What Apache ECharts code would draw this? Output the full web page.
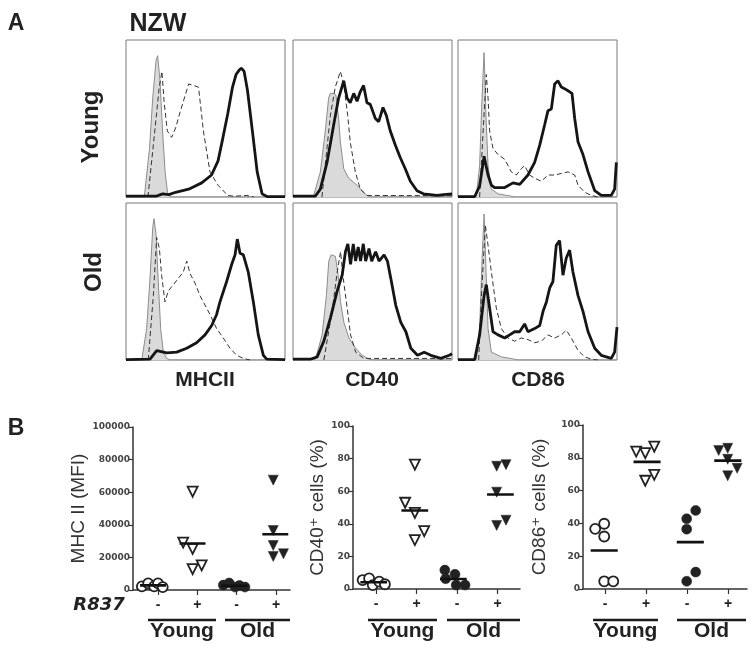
<!DOCTYPE html>
<html>
<head>
<meta charset="utf-8">
<script src="https://cdn.jsdelivr.net/npm/echarts@6/dist/echarts.min.js"></script>
<style>
  html, body { margin: 0; padding: 0; background: #fff; }
  #chart { width: 754px; height: 651px; }
</style>
</head>
<body>
<div id="chart"></div>
<script>
// ---- panel A: histograms, x = channel (0-100), y = % of max ----
const mhcYoungIso = [[0, 0], [11.5, 0], [14.8, 31], [16.8, 63], [18.9, 87], [19.9, 90], [21.4, 74], [23, 42], [24.6, 16], [26.1, 3], [28, 0], [100, 0]]
const mhcYoungCtrl = [[13.8, 0], [17.9, 40], [20.9, 70], [22.6, 80], [24, 60], [26, 42], [28.7, 38], [31.2, 44], [34.3, 55], [39.4, 72], [42.5, 71], [45.6, 70], [48.7, 42], [52.8, 16], [57.9, 7.5], [64, 1], [68, 0.5], [76, 1], [80.5, 0]]
const mhcYoungR837 = [[0, 0.5], [18.9, 0.5], [23, 2], [27, 1.5], [31.2, 3], [39.4, 5], [47.6, 9], [53.8, 14], [57.9, 23], [61, 38], [64, 53], [67, 70], [69.2, 78], [71.3, 81], [72.7, 82], [74.3, 80], [76.4, 68], [79.5, 42], [82.5, 16], [85.6, 2], [88.7, 0.3], [100, 0.3]]

const cd40YoungIso = [[0, 0], [13, 1], [17.2, 16], [20.3, 42], [22.4, 63], [23.5, 66], [25.6, 66], [27, 65], [28.7, 50], [29.8, 35], [31.9, 18], [35, 12], [40.3, 7.5], [43.4, 4], [46.5, 1], [49, 0], [100, 0]]
const cd40YoungCtrl = [[18.2, 0], [23.5, 52], [26.6, 70], [29.8, 80], [31.9, 72], [34.4, 52], [36, 35], [39.2, 16], [42.3, 5], [46.5, 1], [100, 0.8]]
const cd40YoungR837 = [[0, 0.5], [14, 0.5], [17.2, 5], [21.4, 22], [25.6, 46], [28.7, 63], [31.9, 74], [34, 63], [36, 60], [38.2, 66], [40.3, 61], [42.3, 67], [44.4, 71], [46.5, 60], [48.6, 59], [51.8, 50], [53.9, 48], [56.6, 57], [58.7, 52], [61.2, 42], [64.4, 33], [67.5, 25], [70.6, 18], [73.8, 10], [78, 4], [82, 2], [90.6, 1], [94.8, 1.5], [100, 2]]

const cd86YoungIso = [[0, 0], [11.5, 0.5], [13.6, 20], [15.1, 63], [16.4, 92], [17.6, 52], [18.9, 20], [21, 5], [25.2, 2], [33.5, 0.5], [35.6, 0], [100, 0]]
const cd86YoungCtrl = [[13.6, 0], [15.7, 40], [17.8, 78], [18.9, 63], [19.9, 42], [22, 31], [25.2, 27], [29.4, 24], [33.5, 16], [36.7, 14], [39.8, 18], [41.9, 20], [45, 14], [48.2, 12], [52.4, 10], [56.6, 14], [60.8, 14], [65, 15], [69.2, 16], [73.4, 14], [75.5, 7.5], [79.7, 3], [83.9, 1], [88, 0]]
const cd86YoungR837 = [[0, 0.3], [10.5, 0.3], [13.6, 7], [16.4, 26], [18.9, 14], [21, 7.5], [23, 6], [29.4, 6], [34.6, 9], [38.8, 8], [44, 14], [48.2, 22], [51.4, 33], [54.5, 46], [56.6, 55], [58.7, 56], [60.8, 72], [62.9, 74], [65, 70], [67, 69], [70.2, 67], [71.7, 66], [73.4, 50], [75.5, 35], [78.6, 27], [81.8, 16], [86, 4], [90.1, 1], [96.4, 1], [98.5, 5], [99.6, 22]]

const mhcOldIso = [[0, 0], [9.9, 0], [13, 20], [15.1, 52], [16.8, 84], [17.6, 90], [18.9, 80], [20.3, 50], [21.8, 20], [23.5, 5], [25.6, 1], [27.7, 0], [100, 0]]
const mhcOldCtrl = [[14, 0], [17.2, 41], [19.3, 78], [21, 71], [22.4, 54], [24.5, 37], [26.6, 44], [29.8, 48], [32.9, 52], [36, 56], [38.2, 63], [40.3, 55], [43.4, 49], [46.5, 41], [49.7, 35], [52.8, 29], [57, 20], [61.2, 14], [65.4, 7.5], [69.6, 3], [73.8, 1], [78, 0]]
const mhcOldR837 = [[0, 0.3], [15.1, 0.5], [19.3, 6], [25.6, 4.5], [31.9, 5], [38.2, 7.5], [44.4, 11], [49.7, 16], [53.9, 22], [57, 29], [59.1, 37], [63.3, 50], [66.5, 61], [68.6, 67], [70, 77], [71.7, 68], [73.8, 67], [76.9, 56], [80.1, 37], [83.2, 16], [86.4, 3], [88.5, 0.5], [100, 0.3]]

const cd40OldIso = [[0, 0], [14.1, 0.5], [18.3, 16], [21, 41], [22.5, 63], [24, 67], [26.7, 66], [28.4, 54], [29.9, 37], [32, 24], [35.2, 14], [39.4, 7.5], [43.6, 3], [47.8, 0.5], [51, 0], [100, 0]]
const cd40OldCtrl = [[19.4, 0], [24.6, 31], [27.8, 56], [29.9, 69], [31.6, 52], [34.1, 33], [36.2, 16], [39.4, 5], [44.6, 1], [100, 1]]
const cd40OldR837 = [[0, 0.5], [10.9, 0.5], [15.2, 2], [19.4, 12], [23.6, 27], [27.8, 44], [30.9, 54], [33, 69], [34.5, 74], [36.2, 61], [37.9, 74], [39.4, 63], [41, 72], [42.5, 63], [44.2, 74], [45.7, 63], [47.8, 71], [49.5, 63], [52, 69], [54.1, 63], [57.3, 67], [59.4, 63], [61.5, 52], [64.6, 35], [67.8, 24], [71, 18], [74.1, 7.5], [78.3, 3], [82.5, 5], [86.7, 3], [93, 1], [98.3, 3], [100, 4]]

const cd86OldIso = [[0, 0], [11.5, 0.5], [13.6, 20], [15.1, 63], [16.4, 93], [17.8, 52], [18.9, 20], [21, 5], [27.3, 2], [35.6, 0.5], [37.7, 0], [100, 0]]
const cd86OldCtrl = [[13, 0], [14.7, 40], [17.2, 86], [18.9, 73], [21, 56], [24.1, 33], [27.3, 20], [31.4, 14], [35.6, 12], [39.8, 14], [44, 13], [48.2, 11], [52.4, 12], [56.6, 16], [60.8, 14], [65, 16], [68.1, 19], [71.3, 14], [75.5, 6], [79.7, 2], [83.9, 0.5], [88, 0]]
const cd86OldR837 = [[0, 0.3], [10.5, 0.3], [13.6, 16], [16.4, 41], [17.8, 48], [19.9, 33], [22, 18], [25.2, 16], [29.4, 14], [32.5, 16], [35.6, 18], [38.8, 18], [41.9, 23], [44, 18], [48.2, 20], [51.4, 22], [53.5, 31], [55.6, 37], [57.7, 46], [59.7, 50], [61.8, 73], [63.9, 76], [66, 54], [68.1, 65], [70.2, 70], [72.3, 56], [75.5, 41], [78.6, 31], [81.8, 18], [86, 7.5], [90.1, 3], [96.4, 1], [98.5, 5], [100, 21]]

// ---- panel B: [column position, value]; columns 1..4 = Young -, Young +, Old -, Old + ----
const xLabels = ['-', '+', '-', '+']
const groupNames = ['Young', 'Old']

const mhcYoungNeg = [[0.59, 2200], [0.75, 4100], [0.9, 2200], [1.0, 4100], [1.12, 1800]]
const mhcYoungPos = [[1.88, 60300], [1.64, 29100], [1.88, 25200], [1.88, 12800], [2.11, 15100]]
const mhcOldNeg = [[2.66, 3000], [2.81, 4300], [2.96, 1800], [3.07, 2800], [3.21, 1800]]
const mhcOldPos = [[3.93, 67400], [3.93, 36500], [3.93, 27300], [3.93, 20600], [4.19, 22200]]
const mhcMeans = [2850, 28500, 2650, 34200]

const cd40YoungNeg = [[0.67, 5.5], [0.83, 6.5], [0.92, 2.4], [1.08, 4.5], [1.22, 2.9]]
const cd40YoungPos = [[1.96, 76.3], [1.72, 52.9], [1.96, 46.7], [1.96, 30], [2.19, 35.5]]
const cd40OldNeg = [[2.7, 11.6], [2.95, 9], [2.72, 6.3], [2.98, 2.4], [3.2, 2.4]]
const cd40OldPos = [[3.98, 75.3], [4.21, 76.3], [3.98, 59.4], [3.98, 39], [4.21, 42.2]]
const cd40Means = [4.1, 48.2, 6.1, 58]

const cd86YoungNeg = [[0.76, 36.7], [0.98, 39.8], [0.98, 32], [0.98, 4.7], [1.2, 4.7]]
const cd86YoungPos = [[1.76, 83.8], [1.98, 82.8], [2.2, 86.8], [1.98, 66], [2.2, 69.6]]
const cd86OldNeg = [[2.99, 42.8], [3.21, 47.9], [2.99, 36.5], [2.99, 4.7], [3.21, 10.3]]
const cd86OldPos = [[3.77, 84.4], [3.99, 85.8], [3.99, 79.1], [4.22, 73.6], [3.99, 69]]
const cd86Means = [23.5, 77.5, 28.6, 78.3]

const FONT = 'Liberation Sans, Arial, sans-serif'
const INK = '#222'

const myChart = echarts.init(document.getElementById('chart'))

// histogram boxes
const histBoxes = [
  { left: 126, top: 40, curves: [mhcYoungIso, mhcYoungCtrl, mhcYoungR837] },
  { left: 293, top: 40, curves: [cd40YoungIso, cd40YoungCtrl, cd40YoungR837] },
  { left: 458, top: 40, curves: [cd86YoungIso, cd86YoungCtrl, cd86YoungR837] },
  { left: 126, top: 203, curves: [mhcOldIso, mhcOldCtrl, mhcOldR837] },
  { left: 293, top: 203, curves: [cd40OldIso, cd40OldCtrl, cd40OldR837] },
  { left: 458, top: 203, curves: [cd86OldIso, cd86OldCtrl, cd86OldR837] }
]

// scatter panels
const dotPanels = [
  { left: 133, top: 427, width: 157, height: 163, min: 0.364, max: 4.356, yMax: 100000, yStep: 20000,
    name: 'MHC II (MFI)', nameGap: 44, groups: [mhcYoungNeg, mhcYoungPos, mhcOldNeg, mhcOldPos], means: mhcMeans },
  { left: 353, top: 426, width: 167, height: 163, min: 0.432, max: 4.556, yMax: 100, yStep: 20,
    name: 'CD40⁺ cells (%)', nameGap: 24, groups: [cd40YoungNeg, cd40YoungPos, cd40OldNeg, cd40OldPos], means: cd40Means },
  { left: 583, top: 425, width: 164, height: 164, min: 0.463, max: 4.46, yMax: 100, yStep: 20,
    name: 'CD86⁺ cells (%)', nameGap: 34, groups: [cd86YoungNeg, cd86YoungPos, cd86OldNeg, cd86OldPos], means: cd86Means }
]

const grid = []
const xAxis = []
const yAxis = []
const series = []

histBoxes.forEach((b, i) => {
  grid.push({ left: b.left, top: b.top, width: 159, height: 157, show: true, borderColor: '#7a7a7a', borderWidth: 1, backgroundColor: '#fff' })
  xAxis.push({ gridIndex: i, type: 'value', min: 0, max: 100, show: false })
  yAxis.push({ gridIndex: i, type: 'value', min: 0, max: 100, show: false })
  const [iso, ctrl, r837] = b.curves
  series.push({
    type: 'line', xAxisIndex: i, yAxisIndex: i, data: iso, symbol: 'none', z: 2,
    lineStyle: { color: '#8c8c8c', width: 1 },
    areaStyle: { color: '#dadada', opacity: 1 }
  })
  series.push({
    type: 'line', xAxisIndex: i, yAxisIndex: i, data: ctrl, symbol: 'none', z: 3,
    lineStyle: { color: '#333', width: 1, type: [5, 3] }
  })
  series.push({
    type: 'line', xAxisIndex: i, yAxisIndex: i, data: r837, symbol: 'none', z: 4,
    lineStyle: { color: '#151515', width: 2.8 }
  })
})

dotPanels.forEach((p, k) => {
  const i = histBoxes.length + k
  grid.push({ left: p.left, top: p.top, width: p.width, height: p.height })
  xAxis.push({
    gridIndex: i, type: 'value', min: p.min, max: p.max,
    axisLine: { show: true, onZero: false, lineStyle: { color: '#333', width: 1.5 } },
    axisTick: { show: true, customValues: [1, 2, 3, 4], length: 5, lineStyle: { color: '#333', width: 1.2 } },
    axisLabel: {
      customValues: [1, 2, 3, 4], margin: 8,
      formatter: v => xLabels[Math.round(v) - 1],
      fontFamily: FONT, fontWeight: 'bold', fontSize: 14, color: INK
    },
    splitLine: { show: false }
  })
  yAxis.push({
    gridIndex: i, type: 'value', min: 0, max: p.yMax, interval: p.yStep,
    name: p.name, nameLocation: 'middle', nameGap: p.nameGap,
    nameTextStyle: { fontFamily: FONT + ', DejaVu Sans', fontSize: 19, color: '#333' },
    axisLine: { show: true, lineStyle: { color: '#333', width: 1.5 } },
    axisTick: { show: true, length: 4, lineStyle: { color: '#333', width: 1.2 } },
    axisLabel: {
      margin: 3, formatter: v => String(v),
      fontFamily: 'DejaVu Sans', fontWeight: 'bold', fontSize: 9, color: '#444'
    },
    splitLine: { show: false }
  })
  p.groups.forEach((pts, g) => {
    const filled = g >= 2
    const tri = g % 2 === 1
    series.push({
      type: 'scatter', xAxisIndex: i, yAxisIndex: i, data: pts, z: 3,
      symbol: tri ? 'triangle' : 'circle',
      symbolRotate: tri ? 180 : 0,
      symbolSize: tri ? 10 : 10,
      itemStyle: { color: filled ? '#222' : '#fff', borderColor: '#222', borderWidth: filled ? 0.5 : 1.8, opacity: 1 }
    })
    // median line centred on the points of the column
    const cx = pts.reduce((s, d) => s + d[0], 0) / pts.length
    series.push({
      type: 'line', xAxisIndex: i, yAxisIndex: i, symbol: 'none', z: 4,
      data: [[cx - 0.33, p.means[g]], [cx + 0.33, p.means[g]]],
      lineStyle: { color: '#111', width: 2.6 }
    })
  })
})

const graphic = []
function addText(text, x, y, size, opts) {
  graphic.push(Object.assign({
    type: 'text', x: x, y: y,
    style: Object.assign({
      text: text, fill: INK, font: 'bold ' + size + 'px ' + FONT,
      align: 'center', verticalAlign: 'middle'
    }, (opts && opts.style) || {})
  }, (opts && opts.el) || {}))
}
function addLine(x1, x2, y) {
  graphic.push({ type: 'line', shape: { x1: x1, y1: y, x2: x2, y2: y }, style: { stroke: '#1a1a1a', lineWidth: 2.6 } })
}

addText('A', 16, 24, 23)
addText('NZW', 158, 24, 25)
addText('Young', 91, 127, 24, { el: { rotation: Math.PI / 2 } })
addText('Old', 94, 272, 24, { el: { rotation: Math.PI / 2 } })
addText('MHCII', 205, 380, 21)
addText('CD40', 372, 380, 21)
addText('CD86', 538, 380, 21)
addText('B', 16, 429, 23)
addText('R837', 99, 605, 18, { style: { font: 'italic bold 18px DejaVu Sans' } })

// group underlines and labels under each dot panel
const groupSpans = [
  [[148, 216], [225, 290]],
  [[368, 437], [447, 520]],
  [[593, 658], [677, 746]]
]
groupSpans.forEach(spans => {
  spans.forEach((s, g) => {
    addLine(s[0], s[1], 620)
    addText(groupNames[g], (s[0] + s[1]) / 2, 631, 21)
  })
})

const option = {
  backgroundColor: '#fff',
  animation: false,
  grid: grid,
  xAxis: xAxis,
  yAxis: yAxis,
  series: series,
  graphic: graphic
}

myChart.setOption(option)
window.addEventListener('resize', () => {
  myChart.resize()
}, false)
</script>
</body>
</html>
